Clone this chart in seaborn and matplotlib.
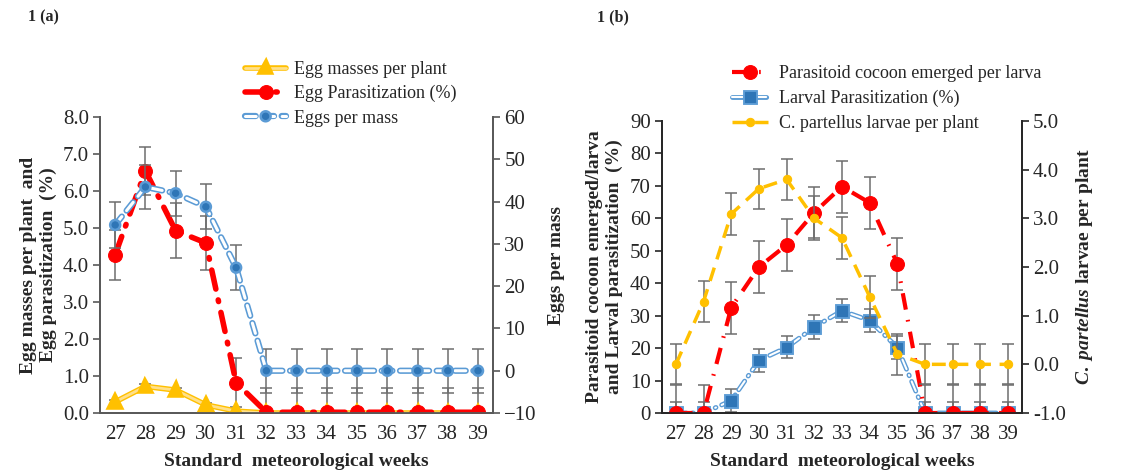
import numpy as np
import pandas as pd
import matplotlib
matplotlib.use("Agg")
import matplotlib.pyplot as plt
import matplotlib.patheffects as pe
import seaborn as sns

weeks = list(range(27, 40))

# 1 (a)
egg_masses = [0.30, 0.72, 0.62, 0.22, 0.05, 0, 0, 0, 0, 0, 0, 0, 0]
egg_masses_err = [0.05, 0.06, 0.06, 0.05, 0.04, 0, 0, 0, 0, 0, 0, 0, 0]
egg_parasit = [4.28, 6.55, 4.93, 4.60, 0.82, 0.02, 0.02, 0.02, 0.02, 0.02, 0.02, 0.02, 0.02]
egg_parasit_err = [0.68, 0.65, 0.75, 0.72, 0.66, 0.65, 0.65, 0.65, 0.65, 0.65, 0.65, 0.65, 0.65]
eggs_per_mass = [34.5, 43.5, 42.0, 38.8, 24.4, 0, 0, 0, 0, 0, 0, 0, 0]
eggs_per_mass_err = [5.4, 5.3, 5.3, 5.3, 5.4, 5.25, 5.25, 5.25, 5.25, 5.25, 5.25, 5.25, 5.25]

# 1 (b)
cocoon = [0, 0, 32.5, 45.0, 51.8, 61.8, 69.8, 64.8, 46.0, 0, 0, 0, 0]
cocoon_err = [8.5, 8.5, 8.0, 8.0, 8.0, 8.0, 8.0, 8.0, 8.0, 8.5, 8.5, 8.5, 8.5]
larval = [0, 0, 3.8, 16.2, 20.2, 26.5, 31.5, 28.5, 20.2, 0, 0, 0, 0]
larval_err = [3.5, 3.5, 3.6, 3.6, 3.4, 3.6, 3.5, 3.5, 3.6, 3.5, 3.5, 3.5, 3.5]
larvae_plant = [0.0, 1.29, 3.09, 3.61, 3.80, 3.00, 2.60, 1.39, 0.21, 0, 0, 0, 0]
larvae_plant_err = [0.41, 0.43, 0.44, 0.41, 0.42, 0.45, 0.43, 0.43, 0.42, 0.41, 0.41, 0.41, 0.41]

df_a = pd.DataFrame({"week": weeks, "egg_masses": egg_masses, "egg_parasit": egg_parasit,
                     "eggs_per_mass": eggs_per_mass})
df_b = pd.DataFrame({"week": weeks, "cocoon": cocoon, "larval": larval,
                     "larvae_plant": larvae_plant})

sns.set_style("white")
plt.rcParams["font.family"] = ["Liberation Serif", "DejaVu Serif"]
plt.rcParams["mathtext.fontset"] = "custom"
plt.rcParams["mathtext.it"] = "Liberation Serif:italic:bold"
plt.rcParams["mathtext.rm"] = "Liberation Serif:bold"

RED = "#ff0000"
YEL = "#ffc000"
BLUE = "#2e75b6"
LBLUE = "#5b9bd5"
ERR = "#6d6d6d"
font = 15
lab_font = 14


def style_axes(ax, ax2, color):
    ax.set_xlim(26.5, 39.5)
    ax.set_xticks(weeks)
    ax.set_xticklabels([str(w) for w in weeks], fontsize=font)
    ax.set_xticks(np.arange(26.5, 40, 1), minor=True)
    ax.tick_params(axis="x", which="major", length=0, pad=9)
    ax.tick_params(axis="x", which="minor", length=5, direction="out", color=color, width=1.2)
    ax.tick_params(axis="y", length=5, direction="out", color=color, width=1.2, labelsize=font, pad=3)
    ax2.tick_params(axis="y", length=5, direction="out", color=color, width=1.2, labelsize=font, pad=3)
    for a in (ax, ax2):
        a.spines["top"].set_visible(False)
        for s in ("left", "right", "bottom"):
            a.spines[s].set_color(color)
            a.spines[s].set_linewidth(1.3)
    ax.set_xlabel("Standard  meteorological weeks", fontsize=lab_font, fontweight="bold", labelpad=6)


def errbars(ax, y, e):
    ax.errorbar(weeks, y, yerr=e, fmt="none", ecolor=ERR, elinewidth=1.1, capsize=4, capthick=1.1, zorder=1)


fig = plt.figure(figsize=(11.46, 4.74), dpi=100)

# ---------- panel a ----------
axa = fig.add_axes([0.0873, 0.1287, 0.343, 0.624])
axa2 = axa.twinx()

errbars(axa, egg_masses, egg_masses_err)
errbars(axa, egg_parasit, egg_parasit_err)
errbars(axa2, eggs_per_mass, eggs_per_mass_err)

sns.lineplot(data=df_a, x="week", y="egg_masses", ax=axa, color="#ffe08a", linewidth=2,
             marker="^", markersize=7, markerfacecolor=YEL, markeredgecolor=YEL,
             path_effects=[pe.Stroke(linewidth=4, foreground=YEL), pe.Normal()],
             label="Egg masses per plant", legend=False, zorder=3)
sns.lineplot(data=df_a, x="week", y="egg_parasit", ax=axa, color=RED, linewidth=4,
             linestyle=(0, (3.5, 2, 0.3, 2)), dash_capstyle="round",
             marker="o", markersize=10, markeredgecolor=RED,
             label="Egg Parasitization (%)", legend=False, zorder=4)
sns.lineplot(data=df_a, x="week", y="eggs_per_mass", ax=axa2, color="white", linewidth=2.2,
             linestyle=(0, (3.5, 2.5)), dash_capstyle="round",
             marker="o", markersize=4.5, markerfacecolor=BLUE, markeredgecolor=BLUE,
             path_effects=[pe.Stroke(linewidth=4.5, foreground=LBLUE), pe.Normal()],
             label="Eggs per mass", legend=False, zorder=3)

axa.set_ylim(0, 8)
axa.set_yticks(np.arange(0, 8.1, 1))
axa.set_yticklabels([f"{v:.1f}" for v in np.arange(0, 8.1, 1)])
axa2.set_ylim(-10, 60)
axa2.set_yticks(np.arange(-10, 61, 10))
axa.set_ylabel("Egg masses per plant  and\nEgg parasitization  (%)", fontsize=lab_font,
               fontweight="bold", labelpad=4)
axa2.set_ylabel("Eggs per mass", fontsize=lab_font, fontweight="bold", labelpad=8)
style_axes(axa, axa2, "#595959")

h1 = axa.get_lines()
h2 = axa2.get_lines()
handles = [l for l in h1 + h2 if not l.get_label().startswith("_")]
axa2.legend(handles=handles, loc="upper left", bbox_to_anchor=(0.35, 1.215), frameon=False,
            fontsize=13, handlelength=2.3, handletextpad=0.4, labelspacing=0.4,
            borderaxespad=0)

fig.text(0.024, 0.955, "1 (a)", fontsize=11.5, fontweight="bold")

# ---------- panel b ----------
axb = fig.add_axes([0.5777, 0.1287, 0.314, 0.616])
axb2 = axb.twinx()

errbars(axb, cocoon, cocoon_err)
errbars(axb, larval, larval_err)
errbars(axb2, larvae_plant, larvae_plant_err)

sns.lineplot(data=df_b, x="week", y="cocoon", ax=axb, color=RED, linewidth=3,
             linestyle=(0, (4, 2.5, 0.4, 2.5)), marker="o", markersize=10, markeredgecolor=RED,
             label="Parasitoid cocoon emerged per larva", legend=False, zorder=4)
sns.lineplot(data=df_b, x="week", y="larval", ax=axb, color="white", linewidth=1.5,
             linestyle=(0, (5, 3, 0.4, 3)), dash_capstyle="round",
             marker="s", markersize=7, markerfacecolor=BLUE, markeredgecolor=BLUE,
             path_effects=[pe.Stroke(linewidth=3.5, foreground=LBLUE), pe.Normal()],
             label="Larval Parasitization (%)", legend=False, zorder=3)
sns.lineplot(data=df_b, x="week", y="larvae_plant", ax=axb2, color=YEL, linewidth=2.5,
             linestyle=(0, (4, 2.5)), marker="o", markersize=6, markeredgecolor=YEL,
             label="C. partellus larvae per plant", legend=False, zorder=3)

axb.set_ylim(0, 90)
axb.set_yticks(np.arange(0, 91, 10))
axb2.set_ylim(-1, 5)
axb2.set_yticks(np.arange(-1, 5.1, 1))
axb2.set_yticklabels([f"{v:.1f}" for v in np.arange(-1, 5.1, 1)])
axb.set_ylabel("Parasitoid cocoon emerged/larva\nand Larval parasitization  (%)", fontsize=lab_font,
               fontweight="bold", labelpad=5)
axb2.set_ylabel(r"$\mathit{C.\ partellus}$ larvae per plant", fontsize=lab_font,
                fontweight="bold", labelpad=6)
style_axes(axb, axb2, "#262626")

h1 = axb.get_lines()
h2 = axb2.get_lines()
handles = [l for l in h1 + h2 if not l.get_label().startswith("_")]
axb2.legend(handles=handles, loc="upper left", bbox_to_anchor=(0.175, 1.215), frameon=False,
            fontsize=13, handlelength=2.0, handletextpad=0.6, labelspacing=0.42,
            borderaxespad=0)

fig.text(0.521, 0.955, "1 (b)", fontsize=11.5, fontweight="bold")

fig.savefig("out.png", dpi=100)
